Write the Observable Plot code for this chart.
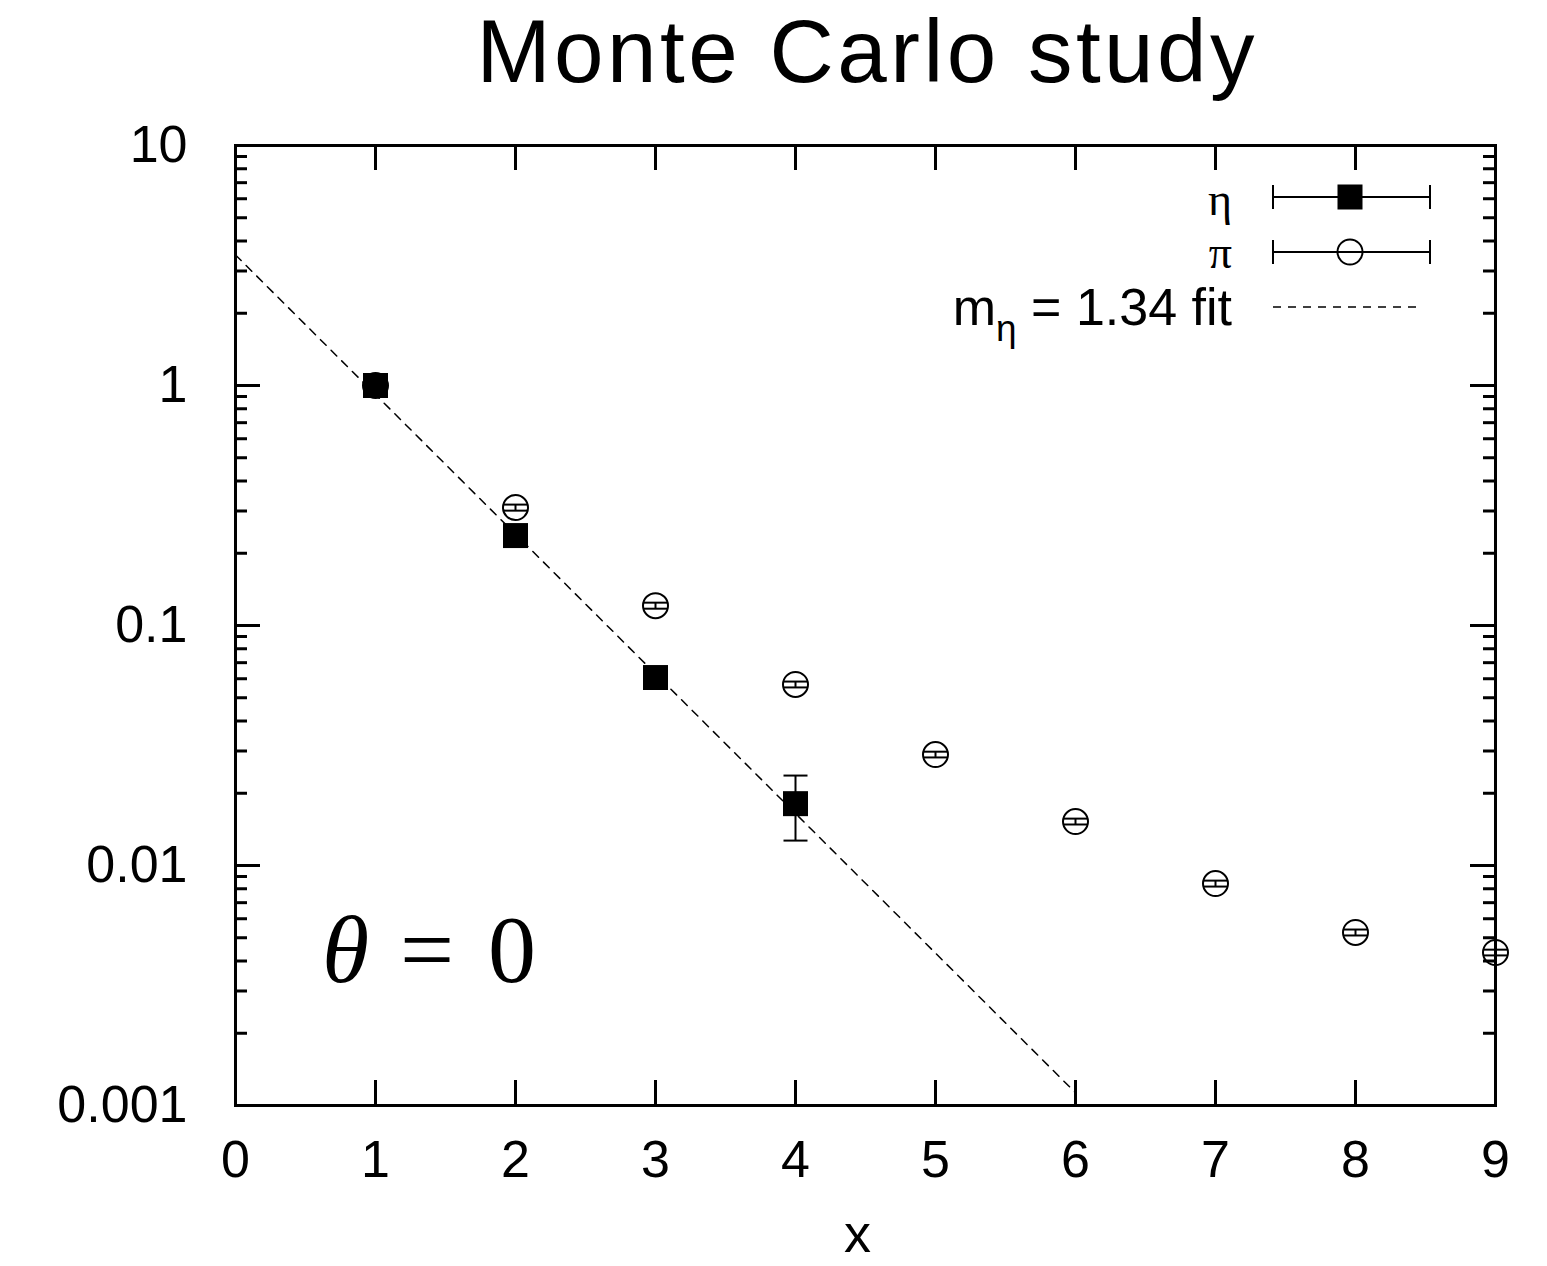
<!DOCTYPE html>
<html><head><meta charset="utf-8">
<script src="https://cdn.jsdelivr.net/npm/d3@7"></script>
<script src="https://cdn.jsdelivr.net/npm/@observablehq/plot@0.6"></script>
<style>body{margin:0;background:#fff} svg{display:block}</style>
</head><body><div id="chart"></div>
<script>
// ---- data ----
const etaX  = [1, 2, 3, 4];
const etaY  = [1.0, 0.237, 0.0607, 0.0181];
const etaLo = [1.0, 0.232, 0.0590, 0.0127];
const etaHi = [1.0, 0.242, 0.0624, 0.0237];

const piX   = [1, 2, 3, 4, 5, 6, 7, 8, 9];
const piY   = [1.0, 0.310, 0.121, 0.0568, 0.0290, 0.01525, 0.00841, 0.00526, 0.00434];
const piLo  = [1.0, 0.301, 0.1175, 0.0552, 0.0282, 0.01482, 0.00817, 0.00511, 0.00422];
const piHi  = [1.0, 0.319, 0.1245, 0.0584, 0.0298, 0.01568, 0.00865, 0.00541, 0.00446];

const fitX  = [0, 6];
const fitY  = [3.5, 0.00113];

const xTicks  = [0, 1, 2, 3, 4, 5, 6, 7, 8, 9];
const yMajor  = [0.001, 0.01, 0.1, 1, 10];
const yMinorMantissa = [2, 3, 4, 5, 6, 7, 8, 9];
const yMinor  = [0.001, 0.01, 0.1, 1].flatMap(d => yMinorMantissa.map(m => +(m * d).toPrecision(3)));

const titleText = "Monte Carlo study";
const xLabel = "x";
const legendLabels = ["η", "π"];
const fitLabel = {base: "m", sub: "η", rest: " = 1.34 fit"};

// ---- tables built from arrays ----
const eta = etaX.map((x, i) => ({x, y: etaY[i], lo: etaLo[i], hi: etaHi[i]}));
const pi  = piX.map((x, i) => ({x, y: piY[i], lo: piLo[i], hi: piHi[i]}));
const fit = fitX.map((x, i) => ({x, y: fitY[i]}));

const W = 1547, H = 1266;
const mL = 235, mR = 52, mT = 145, mB = 161;
const fw = W - mL - mR, fh = H - mT - mB;
const MAJ = 25, MIN = 12;
const sans = "'Liberation Sans', Arial, Helvetica, sans-serif";
const serif = "'Liberation Serif', 'Times New Roman', serif";

const cap = { draw(ctx, size) { const w = Math.sqrt(size / Math.PI); ctx.moveTo(-w, 0); ctx.lineTo(w, 0); } };

const chart = Plot.plot({
  width: W, height: H,
  marginLeft: mL, marginRight: mR, marginTop: mT, marginBottom: mB,
  style: {fontFamily: sans, background: "white", overflow: "visible", color: "black"},
  x: {domain: [0, 9], label: null},
  y: {type: "log", domain: [0.001, 10], label: null},
  marks: [
    // ticks (inward, mirrored)
    Plot.tickX(xTicks, {x: d => d, insetTop: fh - MAJ, strokeWidth: 3}),
    Plot.tickX(xTicks, {x: d => d, insetBottom: fh - MAJ, strokeWidth: 3}),
    Plot.tickY(yMajor, {y: d => d, insetRight: fw - MAJ, strokeWidth: 3}),
    Plot.tickY(yMajor, {y: d => d, insetLeft: fw - MAJ, strokeWidth: 3}),
    Plot.tickY(yMinor, {y: d => d, insetRight: fw - MIN, strokeWidth: 3}),
    Plot.tickY(yMinor, {y: d => d, insetLeft: fw - MIN, strokeWidth: 3}),
    Plot.axisX({ticks: xTicks, tickSize: 0, tickPadding: 35, fontSize: 52, tickFormat: d => String(d), label: null}),
    Plot.axisY({ticks: yMajor, tickSize: 0, tickPadding: 48, fontSize: 52, tickFormat: d => String(d), label: null}),
    // fit
    Plot.line(fit, {x: "x", y: "y", stroke: "black", strokeWidth: 1.5, strokeDasharray: "8,7"}),
    // eta
    Plot.ruleX(eta, {x: "x", y1: "lo", y2: "hi", stroke: "black", strokeWidth: 2}),
    Plot.dot(eta, {x: "x", y: "lo", symbol: cap, r: 12, stroke: "black", fill: "none", strokeWidth: 2}),
    Plot.dot(eta, {x: "x", y: "hi", symbol: cap, r: 12, stroke: "black", fill: "none", strokeWidth: 2}),
    Plot.dot(eta, {x: "x", y: "y", symbol: "square", r: 14.1, fill: "black", stroke: "none"}),
    // pi
    Plot.ruleX(pi, {x: "x", y1: "lo", y2: "hi", stroke: "black", strokeWidth: 2}),
    Plot.dot(pi, {x: "x", y: "lo", symbol: cap, r: 12, stroke: "black", fill: "none", strokeWidth: 2}),
    Plot.dot(pi, {x: "x", y: "hi", symbol: cap, r: 12, stroke: "black", fill: "none", strokeWidth: 2}),
    Plot.dot(pi, {x: "x", y: "y", symbol: "circle", r: 12.5, stroke: "black", fill: "none", strokeWidth: 2}),
    Plot.frame({stroke: "black", strokeWidth: 3}),
    // title and x label
    Plot.text([titleText], {text: d => d, frameAnchor: "top", lineAnchor: "top", dy: -127, fontSize: 89}),
    Plot.text([xLabel], {text: d => d, frameAnchor: "bottom", dx: -8, dy: 146, fontSize: 54})
  ]
});
document.getElementById("chart").appendChild(chart);

const svg = d3.select(chart);
// widen the title to match the reference's wider face
svg.selectAll("text").filter(function() { return this.textContent === titleText; })
  .attr("letter-spacing", 3.5).attr("dx", 1.75);

// ---- legend and annotation ----
const lg = svg.append("g").attr("stroke-linecap", "butt").attr("text-anchor", "end");
const right = mL + fw;            // 1495
const tx = right - 263;           // text right edge
const sx1 = right - 222, sx2 = right - 65, sxm = right - 145;
const rowY = [mT + 52, mT + 107, mT + 162];
const labelDy = [18, 16];

legendLabels.forEach((lab, i) => {
  const y = rowY[i];
  lg.append("text").attr("x", tx).attr("y", y + labelDy[i])
    .attr("font-family", serif).attr("font-size", 46).text(lab);
  lg.append("line").attr("x1", sx1).attr("x2", sx2).attr("y1", y).attr("y2", y).attr("stroke", "black").attr("stroke-width", 2);
  [sx1, sx2].forEach(x => lg.append("line").attr("x1", x).attr("x2", x).attr("y1", y - 12).attr("y2", y + 12).attr("stroke", "black").attr("stroke-width", 2));
  if (i === 0) {
    lg.append("rect").attr("x", sxm - 12.5).attr("y", y - 12.5).attr("width", 25).attr("height", 25).attr("fill", "black");
  } else {
    lg.append("circle").attr("cx", sxm).attr("cy", y).attr("r", 12.5).attr("fill", "none").attr("stroke", "black").attr("stroke-width", 2);
  }
});
{
  const y = rowY[2];
  const t = lg.append("text").attr("x", tx).attr("y", y + 18)
    .attr("font-family", sans).attr("font-size", 52);
  t.append("tspan").text(fitLabel.base);
  t.append("tspan").attr("font-size", 37).attr("dy", 16).text(fitLabel.sub);
  t.append("tspan").attr("dy", -16).text(fitLabel.rest);
  lg.append("line").attr("x1", sx1).attr("x2", right - 75).attr("y1", y).attr("y2", y)
    .attr("stroke", "black").attr("stroke-width", 1.5).attr("stroke-dasharray", "8,7");
}
// theta annotation
const ann = svg.append("text").attr("y", 982).attr("text-anchor", "start")
  .attr("font-family", serif).attr("font-size", 96);
ann.append("tspan").attr("x", 322).attr("font-style", "italic").text("θ");
ann.append("tspan").attr("x", 400).text("=");
ann.append("tspan").attr("x", 488).text("0");
</script>
</body></html>
